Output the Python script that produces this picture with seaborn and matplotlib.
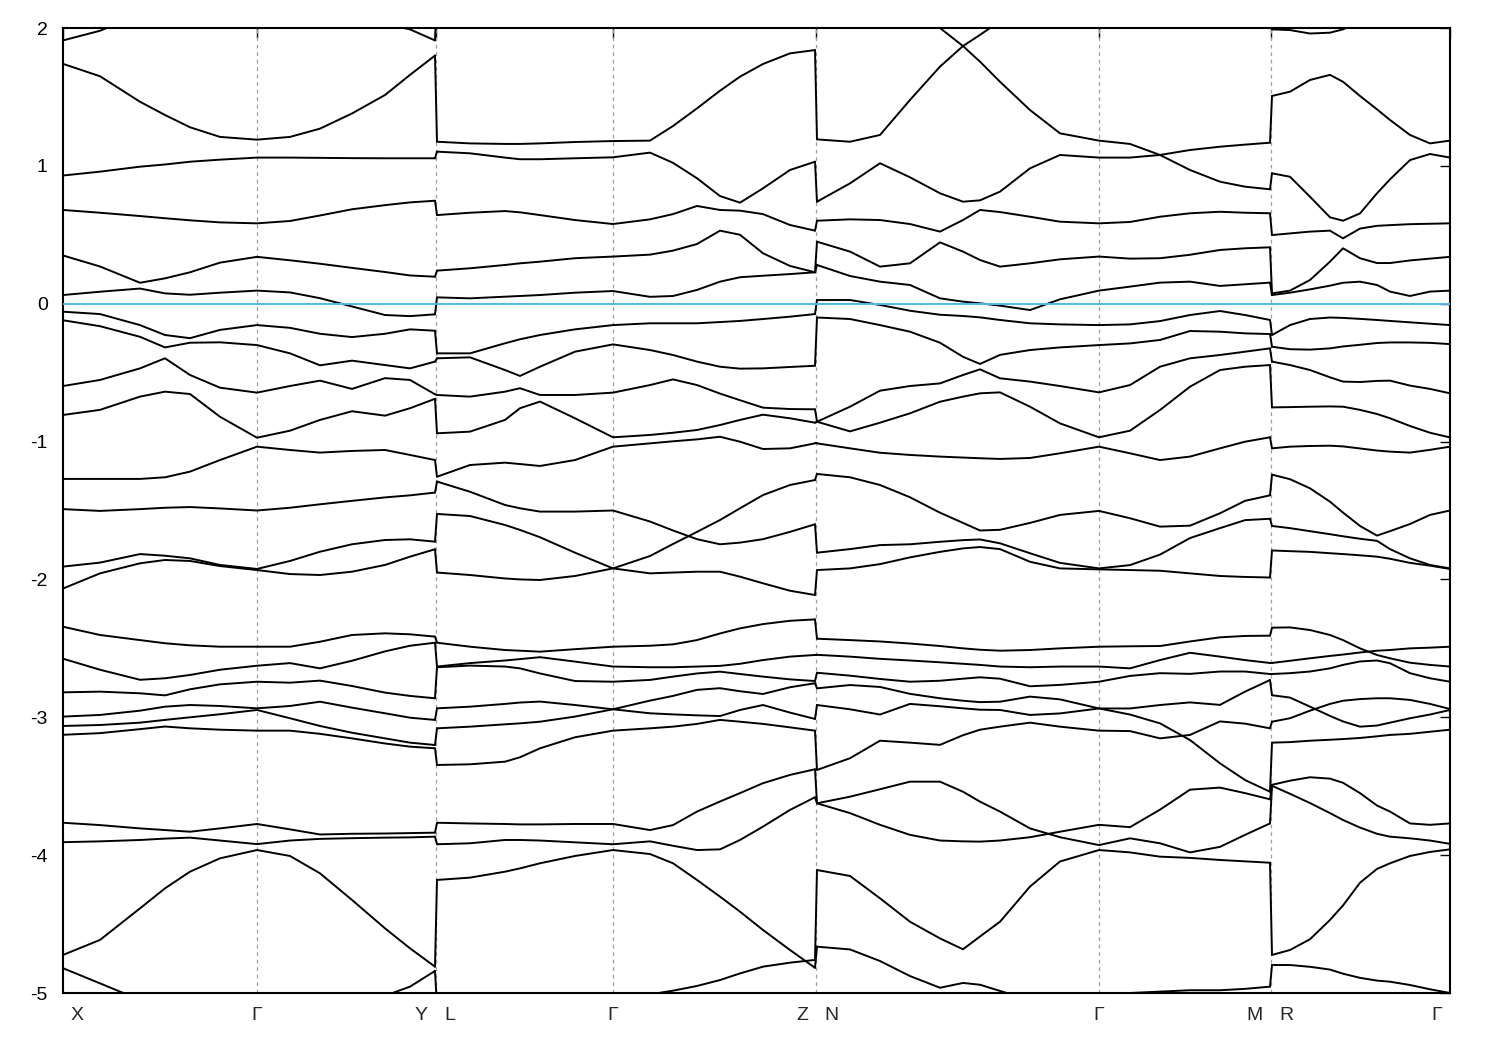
import pandas as pd
import seaborn as sns
import matplotlib.pyplot as plt
from matplotlib import transforms

# k-path: X-G-Y | L-G-Z | N-G-M | R-G
sym_k = [0, 194, 373, 550, 753, 1036, 1208, 1387]
sym_left = ["X", "Γ", "Y", "Γ", "Z", "Γ", "M", "Γ"]
sym_right = ["", "", "L", "", "N", "", "R", ""]

# ---- X - G - Y ----
k_xgy = [0, 37, 77, 102, 127, 157, 194, 227, 257, 289, 322, 347, 372]
bands_xgy = [
    [1.91, 1.98, 2.1, 2.15, 2.2, 2.25, 2.3, 2.25, 2.2, 2.1, 2.03, 1.99, 1.91],
    [1.74, 1.65, 1.465, 1.369, 1.28, 1.21, 1.19, 1.21, 1.27, 1.38, 1.514, 1.66, 1.80],
    [0.93, 0.958, 0.994, 1.01, 1.03, 1.045, 1.06, 1.06, 1.058, 1.056, 1.055, 1.055, 1.055],
    [0.68, 0.66, 0.636, 0.62, 0.605, 0.59, 0.583, 0.6, 0.64, 0.685, 0.715, 0.735, 0.747],
    [0.35, 0.27, 0.152, 0.184, 0.228, 0.298, 0.34, 0.315, 0.29, 0.26, 0.23, 0.205, 0.196],
    [0.063, 0.087, 0.11, 0.075, 0.065, 0.08, 0.095, 0.082, 0.04, -0.02, -0.082, -0.09, -0.077],
    [-0.058, -0.075, -0.155, -0.227, -0.25, -0.19, -0.155, -0.175, -0.218, -0.242, -0.218, -0.186, -0.196],
    [-0.12, -0.163, -0.24, -0.317, -0.283, -0.28, -0.3, -0.36, -0.447, -0.413, -0.445, -0.469, -0.42],
    [-0.597, -0.553, -0.469, -0.396, -0.517, -0.609, -0.645, -0.597, -0.558, -0.618, -0.54, -0.553, -0.657],
    [-0.807, -0.77, -0.674, -0.638, -0.655, -0.82, -0.972, -0.921, -0.843, -0.78, -0.812, -0.758, -0.69],
    [-1.271, -1.271, -1.271, -1.259, -1.218, -1.134, -1.037, -1.061, -1.08, -1.068, -1.061, -1.097, -1.134],
    [-1.49, -1.503, -1.49, -1.48, -1.475, -1.485, -1.5, -1.48, -1.455, -1.43, -1.405, -1.39, -1.37],
    [-1.907, -1.878, -1.816, -1.828, -1.847, -1.895, -1.924, -1.866, -1.799, -1.745, -1.714, -1.709, -1.726],
    [-2.066, -1.956, -1.883, -1.859, -1.866, -1.903, -1.932, -1.961, -1.968, -1.944, -1.895, -1.835, -1.781],
    [-2.343, -2.403, -2.44, -2.463, -2.478, -2.488, -2.488, -2.488, -2.452, -2.403, -2.391, -2.398, -2.415],
    [-2.575, -2.655, -2.728, -2.717, -2.693, -2.655, -2.626, -2.607, -2.645, -2.59, -2.522, -2.481, -2.459],
    [-2.819, -2.814, -2.826, -2.841, -2.797, -2.761, -2.742, -2.749, -2.734, -2.773, -2.821, -2.845, -2.862],
    [-2.995, -2.983, -2.952, -2.923, -2.911, -2.918, -2.935, -2.918, -2.887, -2.93, -2.971, -3.003, -3.019],
    [-3.063, -3.056, -3.039, -3.019, -3.0, -2.978, -2.947, -3.007, -3.063, -3.112, -3.153, -3.184, -3.201],
    [-3.127, -3.115, -3.086, -3.067, -3.08, -3.09, -3.097, -3.097, -3.12, -3.153, -3.19, -3.213, -3.225],
    [-3.765, -3.782, -3.806, -3.818, -3.83, -3.806, -3.774, -3.813, -3.85, -3.845, -3.843, -3.84, -3.837],
    [-3.906, -3.9, -3.89, -3.88, -3.873, -3.894, -3.92, -3.894, -3.882, -3.877, -3.873, -3.871, -3.866],
    [-4.724, -4.615, -4.386, -4.241, -4.12, -4.023, -3.963, -4.006, -4.132, -4.325, -4.531, -4.676, -4.809],
    [-4.82, -4.93, -5.05, -5.12, -5.2, -5.25, -5.28, -5.25, -5.2, -5.12, -5.02, -4.954, -4.84],
]

# ---- L - G - Z ----
k_lgz = [374, 407, 442, 457, 477, 512, 550, 587, 610, 634, 657, 677, 700, 727, 752]
bands_lgz = [
    [2.3, 2.3, 2.3, 2.3, 2.3, 2.3, 2.3, 2.3, 2.3, 2.3, 2.3, 2.3, 2.3, 2.3, 2.3],
    [1.175, 1.163, 1.159, 1.159, 1.163, 1.173, 1.18, 1.183, 1.289, 1.417, 1.545, 1.647, 1.739, 1.816, 1.84],
    [1.103, 1.091, 1.06, 1.048, 1.048, 1.055, 1.062, 1.096, 1.022, 0.91, 0.781, 0.733, 0.837, 0.97, 1.03],
    [0.643, 0.66, 0.672, 0.663, 0.643, 0.607, 0.578, 0.612, 0.65, 0.709, 0.68, 0.675, 0.65, 0.571, 0.53],
    [0.24, 0.257, 0.281, 0.293, 0.305, 0.33, 0.342, 0.356, 0.385, 0.433, 0.53, 0.5, 0.366, 0.274, 0.228],
    [0.046, 0.039, 0.051, 0.056, 0.063, 0.08, 0.092, 0.05, 0.056, 0.1, 0.16, 0.192, 0.203, 0.215, 0.228],
    [-0.36, -0.36, -0.287, -0.258, -0.227, -0.186, -0.155, -0.142, -0.142, -0.142, -0.133, -0.125, -0.111, -0.094, -0.075],
    [-0.396, -0.389, -0.481, -0.524, -0.457, -0.348, -0.295, -0.336, -0.372, -0.42, -0.457, -0.471, -0.469, -0.459, -0.45],
    [-0.662, -0.674, -0.638, -0.613, -0.662, -0.662, -0.645, -0.59, -0.549, -0.59, -0.652, -0.7, -0.754, -0.764, -0.766],
    [-0.94, -0.928, -0.843, -0.758, -0.71, -0.831, -0.969, -0.952, -0.936, -0.916, -0.88, -0.843, -0.805, -0.831, -0.863],
    [-1.255, -1.17, -1.153, -1.163, -1.177, -1.134, -1.037, -1.013, -0.998, -0.984, -0.965, -1.001, -1.054, -1.049, -1.013],
    [-1.29, -1.364, -1.46, -1.484, -1.508, -1.508, -1.5, -1.58, -1.645, -1.708, -1.745, -1.733, -1.708, -1.655, -1.6],
    [-1.525, -1.54, -1.605, -1.641, -1.694, -1.806, -1.92, -1.83, -1.743, -1.655, -1.569, -1.484, -1.388, -1.315, -1.279],
    [-1.95, -1.968, -1.993, -2.0, -2.004, -1.975, -1.92, -1.956, -1.95, -1.944, -1.944, -1.98, -2.028, -2.082, -2.113],
    [-2.459, -2.488, -2.512, -2.517, -2.524, -2.506, -2.488, -2.481, -2.471, -2.44, -2.392, -2.355, -2.324, -2.3, -2.29],
    [-2.632, -2.607, -2.588, -2.578, -2.564, -2.596, -2.632, -2.637, -2.637, -2.632, -2.627, -2.612, -2.585, -2.56, -2.548],
    [-2.637, -2.625, -2.632, -2.645, -2.682, -2.737, -2.742, -2.729, -2.705, -2.682, -2.669, -2.686, -2.705, -2.725, -2.737],
    [-2.935, -2.923, -2.903, -2.893, -2.886, -2.911, -2.942, -2.971, -2.979, -2.986, -2.991, -2.947, -2.911, -2.966, -3.012],
    [-3.08, -3.068, -3.051, -3.044, -3.032, -2.995, -2.942, -2.879, -2.845, -2.801, -2.789, -2.811, -2.831, -2.782, -2.753],
    [-3.346, -3.341, -3.322, -3.29, -3.225, -3.145, -3.097, -3.08, -3.068, -3.048, -3.019, -3.032, -3.048, -3.073, -3.097],
    [-3.765, -3.77, -3.774, -3.777, -3.777, -3.774, -3.774, -3.818, -3.782, -3.684, -3.611, -3.55, -3.478, -3.418, -3.377],
    [-3.921, -3.914, -3.89, -3.89, -3.894, -3.907, -3.921, -3.9, -3.932, -3.963, -3.958, -3.89, -3.793, -3.672, -3.58],
    [-4.18, -4.163, -4.12, -4.096, -4.059, -4.006, -3.963, -3.992, -4.059, -4.18, -4.301, -4.41, -4.543, -4.688, -4.817],
    [-5.1, -5.15, -5.2, -5.2, -5.2, -5.15, -5.08, -5.01, -4.983, -4.949, -4.906, -4.858, -4.809, -4.78, -4.76],
]

# ---- N - G - M ----
k_ngm = [754, 787, 817, 847, 877, 900, 917, 937, 967, 997, 1036, 1067, 1097, 1127, 1157, 1182, 1207]
bands_ngm = [
    [1.192, 1.175, 1.224, 1.478, 1.72, 1.869, 1.95, 2.05, 2.1, 2.15, 2.2, 2.15, 2.08, 2.01, 2.03, 2.05, 2.05],
    [2.45, 2.35, 2.25, 2.12, 2.0, 1.869, 1.756, 1.61, 1.405, 1.236, 1.183, 1.159, 1.079, 0.97, 0.885, 0.849, 0.83],
    [0.74, 0.873, 1.019, 0.917, 0.801, 0.74, 0.75, 0.813, 0.982, 1.079, 1.06, 1.06, 1.079, 1.115, 1.139, 1.154, 1.168],
    [0.602, 0.612, 0.607, 0.578, 0.523, 0.607, 0.68, 0.665, 0.631, 0.595, 0.583, 0.593, 0.631, 0.656, 0.667, 0.66, 0.656],
    [0.45, 0.378, 0.269, 0.293, 0.445, 0.378, 0.317, 0.269, 0.293, 0.322, 0.342, 0.327, 0.33, 0.355, 0.39, 0.402, 0.409],
    [0.281, 0.201, 0.16, 0.136, 0.039, 0.015, 0.003, -0.014, -0.046, 0.032, 0.095, 0.124, 0.153, 0.16, 0.129, 0.141, 0.153],
    [0.027, 0.027, -0.009, -0.051, -0.08, -0.089, -0.099, -0.118, -0.142, -0.15, -0.155, -0.15, -0.126, -0.082, -0.053, -0.082, -0.118],
    [-0.1, -0.111, -0.155, -0.203, -0.283, -0.385, -0.437, -0.371, -0.336, -0.317, -0.3, -0.288, -0.263, -0.198, -0.203, -0.215, -0.22],
    [-0.856, -0.747, -0.631, -0.597, -0.578, -0.517, -0.476, -0.541, -0.565, -0.597, -0.643, -0.59, -0.457, -0.396, -0.372, -0.348, -0.324],
    [-0.856, -0.926, -0.863, -0.795, -0.711, -0.674, -0.65, -0.643, -0.747, -0.868, -0.969, -0.921, -0.771, -0.602, -0.481, -0.457, -0.445],
    [-1.013, -1.049, -1.081, -1.097, -1.109, -1.116, -1.121, -1.126, -1.119, -1.085, -1.037, -1.085, -1.134, -1.109, -1.049, -1.001, -0.969],
    [-1.235, -1.259, -1.315, -1.404, -1.516, -1.59, -1.645, -1.64, -1.59, -1.532, -1.503, -1.556, -1.617, -1.61, -1.52, -1.43, -1.39],
    [-1.806, -1.78, -1.751, -1.745, -1.727, -1.715, -1.71, -1.738, -1.81, -1.88, -1.92, -1.896, -1.82, -1.7, -1.628, -1.57, -1.56],
    [-1.932, -1.92, -1.889, -1.84, -1.8, -1.775, -1.765, -1.78, -1.872, -1.92, -1.927, -1.932, -1.937, -1.956, -1.975, -1.982, -1.986],
    [-2.43, -2.44, -2.45, -2.465, -2.483, -2.5, -2.51, -2.517, -2.512, -2.5, -2.488, -2.485, -2.483, -2.45, -2.42, -2.41, -2.408],
    [-2.547, -2.56, -2.576, -2.588, -2.601, -2.612, -2.62, -2.632, -2.637, -2.632, -2.632, -2.645, -2.585, -2.532, -2.56, -2.585, -2.606],
    [-2.677, -2.698, -2.722, -2.742, -2.735, -2.72, -2.71, -2.72, -2.775, -2.765, -2.742, -2.7, -2.68, -2.685, -2.668, -2.668, -2.686],
    [-2.79, -2.766, -2.78, -2.83, -2.862, -2.88, -2.89, -2.887, -2.85, -2.87, -2.936, -2.936, -2.911, -2.892, -2.91, -2.814, -2.73],
    [-2.911, -2.942, -2.98, -2.903, -2.92, -2.935, -2.945, -2.947, -2.983, -2.972, -2.936, -2.98, -3.044, -3.165, -3.334, -3.455, -3.54],
    [-3.382, -3.297, -3.17, -3.184, -3.2, -3.13, -3.09, -3.068, -3.039, -3.068, -3.097, -3.1, -3.153, -3.128, -3.03, -3.046, -3.08],
    [-3.624, -3.576, -3.522, -3.467, -3.467, -3.54, -3.612, -3.684, -3.806, -3.87, -3.927, -3.878, -3.914, -3.98, -3.94, -3.853, -3.77],
    [-3.624, -3.695, -3.78, -3.853, -3.894, -3.9, -3.902, -3.894, -3.87, -3.83, -3.78, -3.797, -3.67, -3.525, -3.51, -3.55, -3.595],
    [-4.108, -4.151, -4.313, -4.483, -4.604, -4.683, -4.59, -4.483, -4.228, -4.046, -3.963, -3.98, -4.011, -4.02, -4.035, -4.045, -4.055],
    [-4.664, -4.684, -4.768, -4.877, -4.962, -4.927, -4.94, -4.985, -5.05, -5.08, -5.05, -5.0, -4.99, -4.98, -4.98, -4.97, -4.954],
]

# ---- R - G ----
k_rg = [1209, 1227, 1247, 1267, 1280, 1297, 1314, 1327, 1347, 1367, 1387]
bands_rg = [
    [1.99, 1.985, 1.96, 1.966, 1.99, 2.05, 2.1, 2.15, 2.2, 2.2, 2.2],
    [1.507, 1.538, 1.623, 1.66, 1.61, 1.507, 1.41, 1.333, 1.224, 1.163, 1.183],
    [0.946, 0.921, 0.776, 0.627, 0.602, 0.655, 0.801, 0.902, 1.042, 1.086, 1.06],
    [0.498, 0.51, 0.523, 0.53, 0.474, 0.545, 0.565, 0.57, 0.577, 0.58, 0.583],
    [0.075, 0.095, 0.172, 0.305, 0.402, 0.33, 0.295, 0.295, 0.314, 0.327, 0.34],
    [0.063, 0.08, 0.104, 0.131, 0.152, 0.16, 0.136, 0.088, 0.056, 0.088, 0.095],
    [-0.227, -0.155, -0.111, -0.1, -0.103, -0.11, -0.118, -0.125, -0.135, -0.145, -0.155],
    [-0.312, -0.33, -0.333, -0.324, -0.31, -0.298, -0.285, -0.281, -0.281, -0.284, -0.293],
    [-0.42, -0.445, -0.481, -0.534, -0.565, -0.568, -0.56, -0.558, -0.594, -0.618, -0.65],
    [-0.752, -0.75, -0.747, -0.745, -0.747, -0.77, -0.8, -0.831, -0.887, -0.936, -0.97],
    [-1.049, -1.037, -1.032, -1.03, -1.035, -1.05, -1.065, -1.073, -1.08, -1.06, -1.037],
    [-1.24, -1.273, -1.339, -1.436, -1.515, -1.612, -1.682, -1.65, -1.598, -1.532, -1.5],
    [-1.612, -1.628, -1.65, -1.672, -1.687, -1.705, -1.72, -1.78, -1.847, -1.895, -1.92],
    [-1.79, -1.795, -1.8, -1.81, -1.816, -1.825, -1.835, -1.85, -1.88, -1.9, -1.924],
    [-2.35, -2.348, -2.367, -2.403, -2.44, -2.5, -2.548, -2.572, -2.604, -2.62, -2.632],
    [-2.606, -2.59, -2.572, -2.555, -2.545, -2.53, -2.517, -2.512, -2.5, -2.495, -2.488],
    [-2.686, -2.68, -2.668, -2.645, -2.62, -2.595, -2.588, -2.608, -2.68, -2.717, -2.742],
    [-2.84, -2.857, -2.923, -2.99, -3.03, -3.068, -3.06, -3.039, -3.007, -2.98, -2.947],
    [-3.032, -3.007, -2.952, -2.903, -2.88, -2.868, -2.862, -2.862, -2.874, -2.903, -2.94],
    [-3.184, -3.18, -3.17, -3.163, -3.158, -3.15, -3.138, -3.128, -3.12, -3.105, -3.09],
    [-3.49, -3.46, -3.435, -3.445, -3.475, -3.55, -3.64, -3.684, -3.77, -3.78, -3.77],
    [-3.497, -3.555, -3.622, -3.695, -3.745, -3.8, -3.845, -3.866, -3.878, -3.894, -3.918],
    [-4.724, -4.688, -4.61, -4.47, -4.365, -4.2, -4.1, -4.059, -4.006, -3.977, -3.958],
    [-4.797, -4.797, -4.81, -4.83, -4.86, -4.89, -4.91, -4.918, -4.942, -4.973, -5.0],
]

segments = [(k_xgy, bands_xgy), (k_lgz, bands_lgz), (k_ngm, bands_ngm), (k_rg, bands_rg)]

rows = []
for s, (ks, bands) in enumerate(segments):
    for b, vals in enumerate(bands):
        for k, e in zip(ks, vals):
            rows.append((k, e, f"s{s}b{b}"))
# the bands are index ordered, so at every path break the n-th lowest
# band of one piece jumps to the n-th lowest of the next one
for s in range(len(segments) - 1):
    k0, b0 = segments[s]
    k1, b1 = segments[s + 1]
    ends = sorted(v[-1] for v in b0)
    starts = sorted(v[0] for v in b1)
    for j, (e0, e1) in enumerate(zip(ends, starts)):
        rows.append((k0[-1], e0, f"j{s}_{j}"))
        rows.append((k1[0], e1, f"j{s}_{j}"))
df = pd.DataFrame(rows, columns=["k", "E", "line"])

sns.set_style("white")
plt.rcParams["font.family"] = ["Liberation Sans", "DejaVu Sans"]
plt.rcParams["axes.unicode_minus"] = False

fig = plt.figure(figsize=(15, 10.5), dpi=100)
ax = fig.add_axes([63 / 1500, 1 - 993 / 1050, 1387 / 1500, 965 / 1050])

for k in sym_k[1:-1]:
    ax.axvline(k, color="0.62", lw=0.9, ls=(0, (3, 3)), zorder=1)

sns.lineplot(data=df, x="k", y="E", units="line", estimator=None, sort=False,
             color="black", linewidth=1.4, legend=False, ax=ax)
ax.axhline(0, color="#56b4e9", lw=1.4, zorder=3)

ax.set_xlim(sym_k[0], sym_k[-1])
ax.set_ylim(-5, 2)
ax.set_xlabel("")
ax.set_ylabel("")
ax.set_yticks(range(-5, 3))
ax.set_xticks(sym_k)
ax.set_xticklabels([""] * len(sym_k))
ax.tick_params(axis="both", direction="in", length=7, width=1.0,
               top=True, right=True, labelsize=14, colors="black")
ax.tick_params(axis="y", pad=11)
for sp in ax.spines.values():
    sp.set_linewidth(1.5)
    sp.set_color("black")

base = transforms.blended_transform_factory(ax.transData, ax.transAxes)
def shifted(dx_px):
    return base + transforms.ScaledTranslation(dx_px / 100, 0, fig.dpi_scale_trans)

last = len(sym_k) - 1
for i, k in enumerate(sym_k):
    lab_l, lab_r = sym_left[i], sym_right[i]
    if i == 0:
        ax.text(k, -0.015, lab_l, transform=shifted(8), ha="left", va="top", fontsize=14)
    elif i == last:
        ax.text(k, -0.015, lab_l, transform=shifted(-8), ha="right", va="top", fontsize=14)
    elif lab_r:
        ax.text(k, -0.015, lab_l, transform=shifted(-8), ha="right", va="top", fontsize=14)
        ax.text(k, -0.015, lab_r, transform=shifted(8), ha="left", va="top", fontsize=14)
    else:
        ax.text(k, -0.015, lab_l, transform=base, ha="center", va="top", fontsize=14)

fig.savefig("out.png", dpi=100)
